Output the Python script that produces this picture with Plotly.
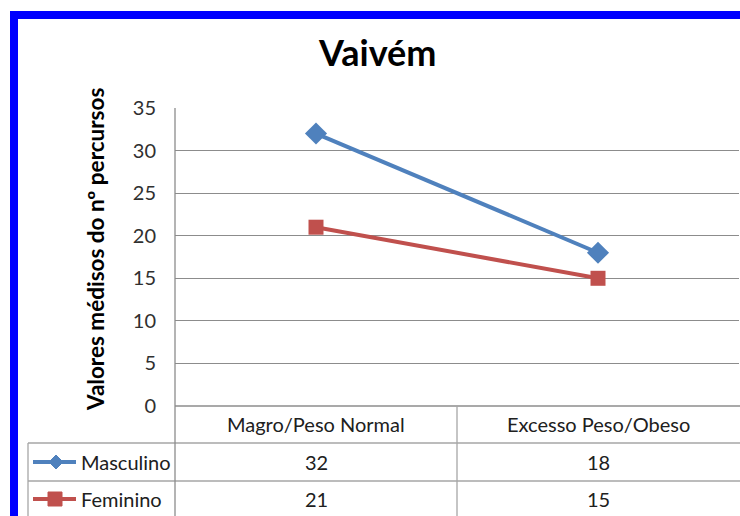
import plotly.graph_objects as go

categories = ["Magro/Peso Normal", "Excesso Peso/Obeso"]
series_names = ["Masculino", "Feminino"]
masculino = [32, 18]
feminino = [21, 15]
y_ticks = [0, 5, 10, 15, 20, 25, 30, 35]

W, H = 740, 516
def px(x): return x / W
def py(y): return 1 - y / H

BLUE = "#4F81BD"
RED = "#C0504D"
GRID = "#8C8C8C"
TBL = "#A6A6A6"
FONT = "Lato"

fig = go.Figure()
fig.add_trace(go.Scatter(x=categories, y=masculino, mode="lines+markers", name=series_names[0],
                         line=dict(color=BLUE, width=4),
                         marker=dict(symbol="diamond", size=17, color=BLUE)))
fig.add_trace(go.Scatter(x=categories, y=feminino, mode="lines+markers", name=series_names[1],
                         line=dict(color=RED, width=4),
                         marker=dict(symbol="square", size=15, color=RED)))

shapes = []
shapes.append(dict(type="rect", xref="paper", yref="paper", x0=px(14), x1=px(800), y0=py(15), y1=py(600),
                   line=dict(color="#0000FF", width=8), fillcolor="rgba(0,0,0,0)", layer="above"))
def hline(y, x0, x1, c=TBL):
    shapes.append(dict(type="line", xref="paper", yref="paper", x0=px(x0), x1=px(x1), y0=py(y), y1=py(y),
                       line=dict(color=c, width=1.3)))
def vline(x, y0, y1, c=TBL):
    shapes.append(dict(type="line", xref="paper", yref="paper", x0=px(x), x1=px(x), y0=py(y0), y1=py(y1),
                       line=dict(color=c, width=1.3)))
hline(406, 175, 760, GRID)
hline(443, 28, 760)
hline(481, 28, 760)
vline(28, 443, 530)
vline(175, 108, 530, GRID)
vline(457, 406, 530)

key_y = [462, 499]
colors = [BLUE, RED]
for i, c in enumerate(colors):
    shapes.append(dict(type="line", xref="paper", yref="paper", x0=px(33), x1=px(76), y0=py(key_y[i]), y1=py(key_y[i]),
                       line=dict(color=c, width=4)))
cx, cy, r = 56, key_y[0], 7
shapes.append(dict(type="path", xref="paper", yref="paper",
                   path=f"M {px(cx-r)} {py(cy)} L {px(cx)} {py(cy-r)} L {px(cx+r)} {py(cy)} L {px(cx)} {py(cy+r)} Z",
                   fillcolor=BLUE, line=dict(color=BLUE, width=1)))
cx, cy, r = 55, key_y[1], 7
shapes.append(dict(type="rect", xref="paper", yref="paper", x0=px(cx-r), x1=px(cx+r), y0=py(cy-r), y1=py(cy+r),
                   fillcolor=RED, line=dict(color=RED, width=1)))

annotations = []
def ann(text, x, y, xref="paper", size=20, xanchor="center", **kw):
    annotations.append(dict(text=text, x=x, y=y, xref=xref, yref="paper", showarrow=False,
                            xanchor=xanchor, yanchor="middle",
                            font=dict(family=FONT, size=size, color=kw.pop("color", "#202020")), **kw))

ann("<b>Vaivém</b>", px(377), py(52), size=36, color="black")
ann("<b>Valores médisos do nº percursos</b>", px(95), py(250), size=22.5, color="black", textangle=-90)
for cat in categories:
    ann(cat, cat, py(424), xref="x")
rows = [masculino, feminino]
for i, name in enumerate(series_names):
    ann(name, px(79), py(key_y[i]), xanchor="left")
    for cat, v in zip(categories, rows[i]):
        ann(str(v), cat, py(key_y[i]), xref="x")

fig.update_layout(
    width=W, height=H, margin=dict(l=0, r=0, t=0, b=0, autoexpand=False),
    paper_bgcolor="white", plot_bgcolor="white", showlegend=False,
    xaxis=dict(domain=[px(175), px(739)], type="category", range=[-0.5, 1.5],
               showticklabels=False, showgrid=False, zeroline=False, showline=False, fixedrange=True),
    yaxis=dict(domain=[py(406), py(108)], range=[0, 35], tickvals=y_ticks,
               showgrid=True, gridcolor=GRID, gridwidth=1, zeroline=False, showline=False,
               ticks="", ticklabelstandoff=18, automargin=False,
               tickfont=dict(family=FONT, size=20, color="#303030")),
    shapes=shapes, annotations=annotations,
)
fig.write_html("out.html", config={"displayModeBar": False},
               post_script="document.body.style.margin='0';document.body.style.overflow='hidden';")
